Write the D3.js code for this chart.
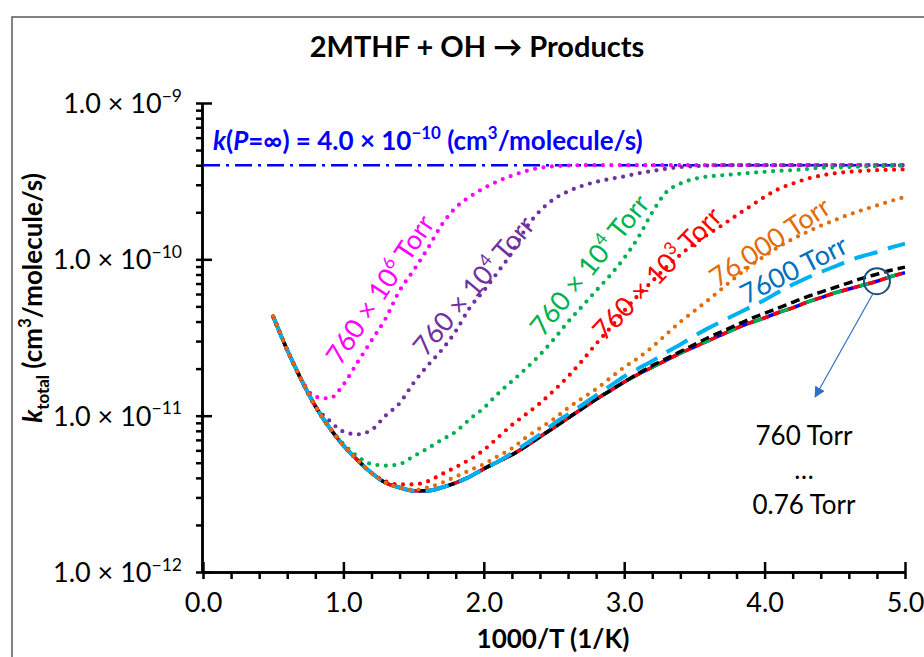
<!DOCTYPE html>
<html>
<head>
<meta charset="utf-8">
<script src="https://cdn.jsdelivr.net/npm/d3@7"></script>
<style>
  body { margin: 0; background: #fff; }
  text { font-family: Lato, "Noto Sans", sans-serif; }
</style>
</head>
<body>
<div id="chart"></div>
<script>
// 1000/T grid (1/K)
var invT = [0.5, 0.6, 0.7, 0.8, 0.9, 1.0,
  1.1, 1.2, 1.3, 1.4, 1.5, 1.6, 1.7, 1.8, 1.9, 2.0,
  2.1, 2.2, 2.3, 2.4, 2.5, 2.6, 2.7, 2.8, 2.9, 3.0,
  3.1, 3.2, 3.3, 3.4, 3.5, 3.6, 3.7, 3.8, 3.9, 4.0,
  4.1, 4.2, 4.3, 4.4, 4.5, 4.6, 4.7, 4.8, 4.9, 5.0];

// low pressure curves (76 ... 0.76 Torr), all on top of each other
var kLow = [4.30e-11, 2.63e-11, 1.70e-11, 1.15e-11, 8.4e-12, 6.45e-12,
  5.2e-12, 4.3e-12, 3.72e-12, 3.47e-12, 3.31e-12, 3.31e-12, 3.47e-12, 3.72e-12, 4.07e-12, 4.57e-12,
  5.07e-12, 5.62e-12, 6.38e-12, 7.33e-12, 8.41e-12, 9.66e-12, 1.109e-11, 1.274e-11, 1.445e-11, 1.641e-11,
  1.841e-11, 2.042e-11, 2.265e-11, 2.512e-11, 2.754e-11, 3.02e-11, 3.311e-11, 3.631e-11, 3.936e-11, 4.217e-11,
  4.571e-11, 4.898e-11, 5.309e-11, 5.689e-11, 6.095e-11, 6.457e-11, 6.839e-11, 7.244e-11, 7.762e-11, 8.222e-11];

// 760 Torr
var k760 = [4.30e-11, 2.63e-11, 1.70e-11, 1.15e-11, 8.4e-12, 6.45e-12,
  5.2e-12, 4.3e-12, 3.72e-12, 3.47e-12, 3.31e-12, 3.31e-12, 3.47e-12, 3.72e-12, 4.07e-12, 4.57e-12,
  5.07e-12, 5.62e-12, 6.38e-12, 7.33e-12, 8.41e-12, 9.66e-12, 1.109e-11, 1.274e-11, 1.445e-11, 1.641e-11,
  1.862e-11, 2.089e-11, 2.317e-11, 2.570e-11, 2.851e-11, 3.162e-11, 3.467e-11, 3.802e-11, 4.169e-11, 4.519e-11,
  4.898e-11, 5.309e-11, 5.754e-11, 6.166e-11, 6.607e-11, 7.079e-11, 7.586e-11, 8.035e-11, 8.511e-11, 8.913e-11];

// 7600 Torr
var k7600 = [4.30e-11, 2.63e-11, 1.70e-11, 1.15e-11, 8.4e-12, 6.45e-12,
  5.2e-12, 4.3e-12, 3.72e-12, 3.47e-12, 3.31e-12, 3.31e-12, 3.47e-12, 3.72e-12, 4.07e-12, 4.57e-12,
  5.07e-12, 5.75e-12, 6.6e-12, 7.6e-12, 8.9e-12, 1.02e-11, 1.17e-11, 1.35e-11, 1.55e-11, 1.78e-11,
  2.0e-11, 2.24e-11, 2.54e-11, 2.85e-11, 3.24e-11, 3.63e-11, 4.03e-11, 4.47e-11, 4.95e-11, 5.5e-11,
  6.17e-11, 6.9e-11, 7.6e-11, 8.3e-11, 9.0e-11, 9.8e-11, 1.05e-10, 1.11e-10, 1.19e-10, 1.26e-10];

// 76,000 Torr
var k76000 = [4.30e-11, 2.63e-11, 1.70e-11, 1.15e-11, 8.4e-12, 6.45e-12,
  5.2e-12, 4.3e-12, 3.72e-12, 3.47e-12, 3.35e-12, 3.47e-12, 3.72e-12, 4.07e-12, 4.47e-12, 4.9e-12,
  5.5e-12, 6.17e-12, 7.24e-12, 8.32e-12, 9.55e-12, 1.12e-11, 1.29e-11, 1.48e-11, 1.74e-11, 2.04e-11,
  2.34e-11, 2.75e-11, 3.31e-11, 3.98e-11, 4.68e-11, 5.5e-11, 6.53e-11, 7.76e-11, 9.12e-11, 1.05e-10,
  1.20e-10, 1.35e-10, 1.49e-10, 1.64e-10, 1.78e-10, 1.93e-10, 2.07e-10, 2.21e-10, 2.36e-10, 2.51e-10];

// 760 x 10^3 Torr
var k760e3 = [4.30e-11, 2.63e-11, 1.70e-11, 1.15e-11, 8.4e-12, 6.45e-12,
  5.2e-12, 4.3e-12, 3.8e-12, 3.63e-12, 3.63e-12, 3.8e-12, 4.22e-12, 4.68e-12, 5.25e-12, 6.03e-12,
  7.24e-12, 8.71e-12, 1.02e-11, 1.2e-11, 1.45e-11, 1.78e-11, 2.24e-11, 2.88e-11, 3.63e-11, 4.68e-11,
  5.89e-11, 7.24e-11, 8.91e-11, 1.07e-10, 1.26e-10, 1.45e-10, 1.66e-10, 1.91e-10, 2.19e-10, 2.51e-10,
  2.82e-10, 3.05e-10, 3.27e-10, 3.43e-10, 3.55e-10, 3.63e-10, 3.68e-10, 3.72e-10, 3.74e-10, 3.76e-10];

// 760 x 10^4 Torr (green)
var k760e4 = [4.30e-11, 2.63e-11, 1.70e-11, 1.15e-11, 8.5e-12, 6.6e-12,
  5.5e-12, 4.9e-12, 4.79e-12, 4.9e-12, 5.5e-12, 6.17e-12, 7.0e-12, 7.9e-12, 9.5e-12, 1.12e-11,
  1.38e-11, 1.66e-11, 2.0e-11, 2.45e-11, 3.09e-11, 3.98e-11, 5.0e-11, 6.3e-11, 7.9e-11, 1.02e-10,
  1.38e-10, 2.0e-10, 2.69e-10, 3.05e-10, 3.27e-10, 3.39e-10, 3.45e-10, 3.51e-10, 3.57e-10, 3.63e-10,
  3.68e-10, 3.72e-10, 3.78e-10, 3.85e-10, 3.87e-10, 3.89e-10, 3.92e-10, 3.94e-10, 3.96e-10, 3.98e-10];

// 760 x 10^4 Torr (purple)
var k760e5 = [4.30e-11, 2.63e-11, 1.70e-11, 1.15e-11, 9.3e-12, 7.9e-12,
  7.6e-12, 8.1e-12, 1.0e-11, 1.2e-11, 1.62e-11, 2.09e-11, 2.63e-11, 3.47e-11, 4.9e-11, 6.3e-11,
  8.3e-11, 1.10e-10, 1.58e-10, 2.04e-10, 2.43e-10, 2.72e-10, 2.95e-10, 3.13e-10, 3.27e-10, 3.39e-10,
  3.55e-10, 3.67e-10, 3.8e-10, 3.89e-10, 3.94e-10, 3.98e-10, 4.0e-10, 4.0e-10, 4.0e-10, 4.0e-10,
  4.0e-10, 4.0e-10, 4.0e-10, 4.0e-10, 4.0e-10, 4.0e-10, 4.0e-10, 4.0e-10, 4.0e-10, 4.0e-10];

// 760 x 10^6 Torr
var k760e6 = [4.30e-11, 2.63e-11, 1.70e-11, 1.32e-11, 1.29e-11, 1.58e-11,
  2.19e-11, 3.02e-11, 4.17e-11, 6.3e-11, 8.5e-11, 1.17e-10, 1.66e-10, 2.14e-10, 2.51e-10, 2.85e-10,
  3.16e-10, 3.43e-10, 3.67e-10, 3.85e-10, 3.94e-10, 3.98e-10, 4.0e-10, 4.0e-10, 4.0e-10, 4.0e-10,
  4.0e-10, 4.0e-10, 4.0e-10, 4.0e-10, 4.0e-10, 4.0e-10, 4.0e-10, 4.0e-10, 4.0e-10, 4.0e-10,
  4.0e-10, 4.0e-10, 4.0e-10, 4.0e-10, 4.0e-10, 4.0e-10, 4.0e-10, 4.0e-10, 4.0e-10, 4.0e-10];

var kInf = 4.0e-10;

var xTicks = [0, 1, 2, 3, 4, 5];
var xTickLabels = ["0.0", "1.0", "2.0", "3.0", "4.0", "5.0"];
var yTicks = [1e-12, 1e-11, 1e-10, 1e-9];
var yTickExp = ["\u221212", "\u221211", "\u221210", "\u22129"];

var svg = d3.select("#chart").append("svg")
  .attr("width", 924)
  .attr("height", 657);

// chart frame
svg.append("rect")
  .attr("x", 12).attr("y", 17)
  .attr("width", 940).attr("height", 680)
  .attr("fill", "none")
  .attr("stroke", "#595959")
  .attr("stroke-width", 1.5);

var x = d3.scaleLinear().domain([0, 5]).range([203, 905]);
var y = d3.scaleLog().domain([1e-12, 1e-9]).range([572, 103]);

// text helper with super/subscripts
function richText(g, parts, size) {
  var t = g.append("text").attr("font-size", size);
  var shift = 0;
  parts.forEach(function(p) {
    var ts = t.append("tspan").text(p.t);
    var target = p.sup ? -0.42 * size : (p.sub ? 0.28 * size : 0);
    ts.attr("dy", target - shift);
    shift = target;
    if (p.sup || p.sub) ts.attr("font-size", size * 0.65);
    if (p.italic) ts.attr("font-style", "italic");
  });
  return t;
}

// Title
svg.append("text")
  .attr("x", 477).attr("y", 57)
  .attr("text-anchor", "middle")
  .attr("font-size", 29)
  .attr("font-weight", "bold")
  .text("2MTHF + OH \u2192 Products");

// Axes
var xMinor = d3.range(0, 5.001, 0.2);
svg.append("g")
  .attr("transform", "translate(0,572)")
  .call(d3.axisBottom(x).tickValues(xMinor).tickSize(7).tickSizeOuter(0).tickFormat(""));
var xAx = svg.append("g")
  .attr("transform", "translate(0,572)")
  .call(d3.axisBottom(x).tickValues(xTicks).tickSizeInner(-10).tickSizeOuter(0).tickPadding(21)
    .tickFormat(function(d, i) { return xTickLabels[i]; }));
xAx.selectAll("text").attr("font-size", 27).attr("fill", "#000").attr("font-family", "Lato, sans-serif");

var yMinor = [];
[1e-12, 1e-11, 1e-10].forEach(function(dec) {
  [1, 2, 3, 4, 5, 6, 7, 8, 9].forEach(function(m) { yMinor.push(dec * m); });
});
yMinor.push(1e-9);
svg.append("g")
  .attr("transform", "translate(202,0)")
  .call(d3.axisLeft(y).tickValues(yMinor).tickSize(6).tickSizeOuter(0).tickFormat(""));
svg.append("g")
  .attr("transform", "translate(202,0)")
  .call(d3.axisLeft(y).tickValues(yTicks).tickSizeInner(-10).tickSizeOuter(0).tickFormat(""));

svg.selectAll(".domain, .tick line").attr("stroke", "#000").attr("stroke-width", 2.5);

yTicks.forEach(function(v, i) {
  var g = svg.append("g").attr("transform", "translate(182," + (y(v) + 10) + ")");
  richText(g, [{t: "1.0 \u00d7 10"}, {t: yTickExp[i], sup: true}], 27).attr("text-anchor", "end");
});

// axis titles
var yt = svg.append("g").attr("transform", "translate(42,298) rotate(-90)");
richText(yt, [{t: "k", italic: true}, {t: "total", sub: true}, {t: " (cm"}, {t: "3", sup: true}, {t: "/molecule/s)"}], 26)
  .attr("text-anchor", "middle").attr("font-weight", "bold");

svg.append("text")
  .attr("x", 553).attr("y", 648)
  .attr("text-anchor", "middle")
  .attr("font-size", 26)
  .attr("font-weight", "bold")
  .text("1000/T (1/K)");

// k infinity label
var kl = svg.append("g").attr("transform", "translate(213,150)");
richText(kl, [{t: "k", italic: true}, {t: "("}, {t: "P", italic: true}, {t: "=\u221e) = 4.0 \u00d7 10"},
  {t: "\u221210", sup: true}, {t: " (cm"}, {t: "3", sup: true}, {t: "/molecule/s)"}], 26)
  .attr("font-weight", "bold").attr("fill", "#0000FF");

// rotated curve labels (drawn under the curves)
function curveLabel(parts, cx, cy, angle, color) {
  var g = svg.append("g").attr("transform", "translate(" + cx + "," + cy + ") rotate(" + angle + ")");
  richText(g, parts, 27).attr("text-anchor", "middle").attr("fill", color);
}
curveLabel([{t: "760 \u00d7 10"}, {t: "6", sup: true}, {t: " Torr"}], 388, 295, -56.5, "#FF00FF");
curveLabel([{t: "760 \u00d7 10"}, {t: "4", sup: true}, {t: " Torr"}], 481, 292, -50, "#7030A0");
curveLabel([{t: "760 \u00d7 10"}, {t: "4", sup: true}, {t: " Torr"}], 597, 271, -51, "#00B050");
curveLabel([{t: "760 \u00d7 10"}, {t: "3", sup: true}, {t: " Torr"}], 664, 280, -46, "#FF0000");
curveLabel([{t: "76,000 Torr"}], 775, 250, -33.5, "#E36C0A");
curveLabel([{t: "7600 Torr"}], 798, 278, -27, "#0070C0");

// lines
var line = d3.line()
  .x(function(d) { return x(d[0]); })
  .y(function(d) { return y(d[1]); })
  .curve(d3.curveMonotoneX);

function pts(vals) { return invT.map(function(t, i) { return [t, vals[i]]; }); }

// k(P=inf)
svg.append("path")
  .attr("d", line([[0, kInf], [5, kInf]]))
  .attr("fill", "none").attr("stroke", "#0000FF")
  .attr("stroke-width", 2.5).attr("stroke-dasharray", "17 6 3 6");

var series = [
  {v: kLow, c: "#0000FF", w: 3.5, dash: null},
  {v: kLow, c: "#FF0000", w: 3.5, dash: "9 5", off: 7},
  {v: kLow, c: "#00B050", w: 3.5, dash: "9 19", off: 0},
  {v: k760, c: "#000000", w: 3.5, dash: "9 5"},
  {v: k7600, c: "#00B0F0", w: 4, dash: "24 11"},
  {v: k760e6, c: "#FF00FF", w: 4.2, dash: "0 8.5", round: true},
  {v: k760e5, c: "#7030A0", w: 4.2, dash: "0 8.5", round: true},
  {v: k760e4, c: "#00B050", w: 4.2, dash: "0 8.5", round: true},
  {v: k760e3, c: "#FF0000", w: 4.2, dash: "0 8.5", round: true},
  {v: k76000, c: "#E36C0A", w: 4.2, dash: "0 8.5", round: true}
];

series.forEach(function(s) {
  var p = svg.append("path")
    .attr("d", line(pts(s.v)))
    .attr("fill", "none")
    .attr("stroke", s.c)
    .attr("stroke-width", s.w);
  if (s.dash) p.attr("stroke-dasharray", s.dash);
  if (s.off) p.attr("stroke-dashoffset", s.off);
  if (s.round) p.attr("stroke-linecap", "round");
});

// annotation: circle + arrow + text
svg.append("defs").append("marker")
  .attr("id", "arr")
  .attr("viewBox", "0 0 10 10")
  .attr("refX", 9).attr("refY", 5)
  .attr("markerWidth", 9).attr("markerHeight", 9)
  .attr("orient", "auto")
  .append("path").attr("d", "M0,0 L10,5 L0,10 z").attr("fill", "#2F6FC4");

var cx = x(4.8), cy = y(7.244e-11);
svg.append("circle")
  .attr("cx", cx).attr("cy", cy).attr("r", 13)
  .attr("fill", "none").attr("stroke", "#1F4E79").attr("stroke-width", 2);
svg.append("line")
  .attr("x1", cx - 4).attr("y1", cy + 12.5)
  .attr("x2", x(4.36)).attr("y2", y(1.32e-11))
  .attr("stroke", "#2F6FC4").attr("stroke-width", 1.2)
  .attr("marker-end", "url(#arr)");

[["760 Torr", 445], ["\u2026", 479], ["0.76 Torr", 514]].forEach(function(r) {
  svg.append("text")
    .attr("x", 804).attr("y", r[1])
    .attr("text-anchor", "middle")
    .attr("font-size", 26)
    .attr("fill", "#000")
    .text(r[0]);
});
</script>
</body>
</html>
